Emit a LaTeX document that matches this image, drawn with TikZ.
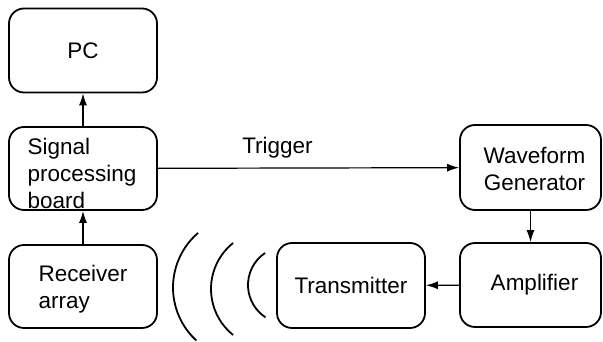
\documentclass[tikz,border=0pt]{standalone}
\usepackage{fontspec}
\setmainfont{Liberation Sans}
\usetikzlibrary{arrows.meta}
\begin{document}
\begin{tikzpicture}[x=1pt,y=1pt,
  txt/.style={font=\fontsize{22.5}{27}\selectfont, inner sep=0pt},
  box/.style={draw, line width=1.8pt, rounded corners=15pt, inner sep=0pt},
  conn/.style={line width=1.2pt, -{Latex[length=12pt,width=8pt]}},
  wave/.style={line width=1.8pt}]
\useasboundingbox (0,0) rectangle (603,342);
% y_tikz = 342 - y_px
\node[box, minimum width=148, minimum height=84,
  label={[txt, name=pct]center:PC}] (pc) at (83,291.5) {};
\node[box, minimum width=148, minimum height=83,
  label={[txt, align=left, name=spbt, yshift=-5, xshift=-1]center:Signal\\processing\\board}] (spb) at (83,173.5) {};
\node[box, minimum width=148, minimum height=83,
  label={[txt, align=left, name=rat, yshift=-3]center:Receiver\\array}] (ra) at (83,55.5) {};
\node[box, minimum width=141, minimum height=85,
  label={[txt, align=center, name=wgt, yshift=-1, xshift=4]center:Waveform\\Generator}] (wg) at (530.5,174.5) {};
\node[box, minimum width=141, minimum height=84,
  label={[txt, name=ampt, xshift=4]center:Amplifier}] (amp) at (530.5,57) {};
\node[box, minimum width=148, minimum height=85,
  label={[txt, name=txt1]center:Transmitter}] (tx) at (351,56.5) {};
\draw[conn] (spb) -- (pc);
\draw[conn] (ra) -- (spb);
\draw[conn] (spb) -- node[txt, above, inner sep=9pt, xshift=-31pt] (trig) {Trigger} (wg);
\draw[conn] (wg) -- (amp);
\draw[conn] (amp) -- (tx);
\draw[wave] (245,54.5) ++(130.7:72) arc[start angle=130.7, end angle=227.5, radius=72];
\draw[wave] (270,53) ++(128.8:59) arc[start angle=128.8, end angle=231.2, radius=59];
\draw[wave] (286.6,57) ++(124:38.6) arc[start angle=124, end angle=237, radius=38.6];
\end{tikzpicture}
\end{document}
